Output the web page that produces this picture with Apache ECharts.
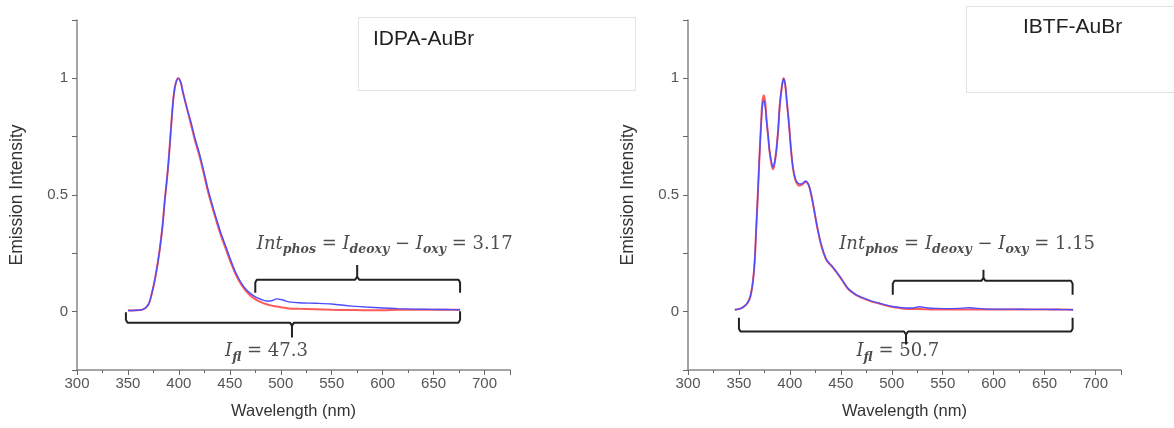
<!DOCTYPE html>
<html>
<head>
<meta charset="utf-8">
<script src="https://cdn.jsdelivr.net/npm/echarts@6/dist/echarts.min.js"></script>
<style>
  html, body { margin: 0; padding: 0; background: #fff; }
  #chart { width: 1174px; height: 428px; }
</style>
</head>
<body>
<div id="chart"></div>
<script>
// wavelength (nm) / normalised emission
var idpaX = [350, 358, 365, 370, 373, 377, 381, 384, 386, 389, 391, 393, 395, 397, 399.5, 402, 404, 408, 412, 416, 420, 424, 428, 432, 436, 441, 446, 451, 456, 461, 466, 471, 476, 481, 486, 491, 496, 502, 508, 518, 534, 550, 567, 583, 600, 615, 630, 648, 662, 676];
var idpaDeoxy = [0.005, 0.006, 0.01, 0.03, 0.07, 0.15, 0.26, 0.37, 0.47, 0.6, 0.71, 0.83, 0.93, 0.98, 1.0, 0.98, 0.94, 0.87, 0.81, 0.74, 0.68, 0.61, 0.535, 0.47, 0.41, 0.34, 0.28, 0.22, 0.166, 0.125, 0.095, 0.075, 0.061, 0.052, 0.046, 0.047, 0.055, 0.05, 0.042, 0.038, 0.036, 0.033, 0.025, 0.02, 0.016, 0.013, 0.011, 0.01, 0.009, 0.008];
var idpaOxy = [0.005, 0.006, 0.01, 0.03, 0.07, 0.15, 0.26, 0.37, 0.47, 0.6, 0.71, 0.83, 0.93, 0.98, 1.0, 0.98, 0.94, 0.87, 0.8, 0.73, 0.67, 0.6, 0.525, 0.46, 0.4, 0.33, 0.27, 0.21, 0.158, 0.118, 0.088, 0.066, 0.051, 0.04, 0.032, 0.026, 0.022, 0.018, 0.014, 0.012, 0.01, 0.008, 0.007, 0.006, 0.006, 0.008, 0.008, 0.008, 0.008, 0.008];

var ibtfX = [346, 352, 357, 360, 362, 364, 365.5, 367, 368.5, 370.3, 372, 373, 374.5, 376, 377, 378.5, 380, 382, 383.5, 385, 386.7, 388.5, 390, 392, 393.8, 395.5, 397, 399, 401, 403, 405, 407, 409, 411, 413, 415.4, 417.5, 419.5, 422, 424.5, 427, 430, 433, 436, 439, 442, 445.5, 449, 453, 457, 461, 465, 470, 475, 481, 488, 494, 501, 510, 520, 527, 535, 545, 555, 565, 576, 590, 605, 620, 635, 650, 665, 678];
var ibtfDeoxy = [0.008, 0.014, 0.03, 0.05, 0.08, 0.14, 0.22, 0.36, 0.5, 0.68, 0.82, 0.88, 0.905, 0.87, 0.82, 0.76, 0.69, 0.64, 0.62, 0.64, 0.69, 0.78, 0.88, 0.96, 1.0, 0.97, 0.9, 0.81, 0.7, 0.62, 0.575, 0.555, 0.548, 0.547, 0.552, 0.56, 0.552, 0.53, 0.48, 0.42, 0.36, 0.3, 0.255, 0.222, 0.206, 0.192, 0.172, 0.151, 0.125, 0.1, 0.085, 0.073, 0.062, 0.054, 0.044, 0.036, 0.029, 0.022, 0.017, 0.016, 0.021, 0.016, 0.014, 0.013, 0.014, 0.017, 0.012, 0.011, 0.011, 0.01, 0.01, 0.009, 0.0085];
var ibtfOxy = [0.008, 0.014, 0.03, 0.05, 0.08, 0.14, 0.22, 0.36, 0.5, 0.68, 0.83, 0.9, 0.927, 0.89, 0.83, 0.76, 0.69, 0.63, 0.61, 0.635, 0.69, 0.78, 0.88, 0.96, 1.0, 0.97, 0.9, 0.81, 0.7, 0.615, 0.57, 0.548, 0.54, 0.542, 0.548, 0.556, 0.55, 0.528, 0.478, 0.418, 0.358, 0.298, 0.253, 0.22, 0.204, 0.19, 0.17, 0.149, 0.123, 0.098, 0.083, 0.071, 0.06, 0.052, 0.042, 0.034, 0.027, 0.02, 0.014, 0.011, 0.011, 0.01, 0.009, 0.009, 0.009, 0.009, 0.009, 0.009, 0.009, 0.009, 0.009, 0.009, 0.0085];

// bracket annotations, in data units [nm, intensity]
var idpaFlBracket = [[348, -0.002], [348, -0.035], [349.5, -0.047], [509, -0.047], [511, -0.06], [511, -0.111], [511, -0.06], [513, -0.047], [674.5, -0.047], [676, -0.035], [676, 0.002]];
var idpaPhosBracket = [[475, 0.081], [475, 0.125], [476.5, 0.137], [573, 0.137], [575, 0.15], [575, 0.2], [575, 0.15], [577, 0.137], [674.5, 0.137], [676, 0.125], [676, 0.081]];
var ibtfFlBracket = [[350, -0.026], [350, -0.073], [351.5, -0.085], [512, -0.085], [514, -0.098], [514, -0.141], [514, -0.098], [516, -0.085], [676, -0.085], [677.5, -0.073], [677.5, -0.026]];
var ibtfPhosBracket = [[501, 0.073], [501, 0.12], [502.5, 0.132], [588, 0.132], [590, 0.145], [590, 0.18], [590, 0.145], [592, 0.132], [676, 0.132], [677.5, 0.12], [677.5, 0.073]];

var xTicks = [300, 350, 400, 450, 500, 550, 600, 650, 700];
var yTicks = [0, 0.5, 1];

var chart = echarts.init(document.getElementById('chart'));

var richText = {
  m: { fontFamily: 'DejaVu Serif', fontStyle: 'italic', fontSize: 18, color: '#222', lineHeight: 22 },
  n: { fontFamily: 'DejaVu Serif', fontSize: 18, color: '#222', lineHeight: 22 },
  s: { fontFamily: 'DejaVu Serif', fontStyle: 'italic', fontWeight: 'bold', fontSize: 12.5, color: '#222', lineHeight: 13, padding: [11, 0, 0, 0] }
};

function pair(xs, ys) {
  return xs.map(function (x, i) { return [x, ys[i]]; });
}

function xAxis(idx) {
  return {
    type: 'value', gridIndex: idx, min: 300, max: 725, interval: 50,
    name: 'Wavelength (nm)', nameLocation: 'middle', nameGap: 33,
    nameTextStyle: { fontFamily: 'Liberation Sans', fontSize: 16.5, color: '#333' },
    axisLine: { onZero: false, lineStyle: { color: '#888', width: 1.5 } },
    axisTick: { length: 5, lineStyle: { color: '#666' } },
    minorTick: { show: true, splitNumber: 2, length: 3, lineStyle: { color: '#666' } },
    axisLabel: {
      fontFamily: 'Liberation Sans', fontSize: 15, color: '#555', margin: 6,
      formatter: function (v) { return xTicks.indexOf(v) >= 0 ? String(v) : ''; }
    },
    splitLine: { show: false }
  };
}

function yAxis(idx) {
  return {
    type: 'value', gridIndex: idx, min: -0.25, max: 1.25, interval: 0.25,
    name: 'Emission Intensity', nameLocation: 'middle', nameGap: 51,
    nameTextStyle: { fontFamily: 'Liberation Sans', fontSize: 17.5, color: '#333' },
    axisLine: { show: true, lineStyle: { color: '#888', width: 1.5 } },
    axisTick: { length: 5, lineStyle: { color: '#666' } },
    axisLabel: {
      fontFamily: 'Liberation Sans', fontSize: 15, color: '#555', margin: 9,
      formatter: function (v) { return yTicks.indexOf(v) >= 0 ? String(v) : ''; }
    },
    splitLine: { show: false }
  };
}

function curve(idx, data, color, width, z) {
  return {
    type: 'line', xAxisIndex: idx, yAxisIndex: idx, data: data,
    symbol: 'none', smooth: 0.3, z: z,
    lineStyle: { color: color, width: width }
  };
}

function bracket(idx, data) {
  return {
    type: 'line', xAxisIndex: idx, yAxisIndex: idx, data: data,
    symbol: 'none', z: 5, silent: true,
    lineStyle: { color: '#222', width: 2 }
  };
}

function note(idx, pos, text) {
  return {
    type: 'scatter', xAxisIndex: idx, yAxisIndex: idx, data: [pos],
    symbolSize: 0, silent: true, z: 6,
    label: { show: true, position: 'inside', formatter: text, rich: richText }
  };
}

option = {
  animation: false,
  backgroundColor: '#fff',
  grid: [
    { left: 77, top: 20, width: 433, height: 350 },
    { left: 688, top: 20, width: 433, height: 350 }
  ],
  xAxis: [xAxis(0), xAxis(1)],
  yAxis: [yAxis(0), yAxis(1)],
  graphic: [
    { type: 'rect', left: 358, top: 17, shape: { width: 277, height: 73 },
      style: { fill: '#fff', stroke: '#e2e2e2', lineWidth: 1 } },
    { type: 'text', left: 373, top: 29,
      style: { text: 'IDPA-AuBr', fontFamily: 'Liberation Sans', fontSize: 21, fill: '#222' } },
    { type: 'rect', left: 966, top: 6, shape: { width: 220, height: 86 },
      style: { fill: '#fff', stroke: '#e2e2e2', lineWidth: 1 } },
    { type: 'text', left: 1023, top: 17,
      style: { text: 'IBTF-AuBr', fontFamily: 'Liberation Sans', fontSize: 21, fill: '#222' } }
  ],
  series: [
    curve(0, pair(idpaX, idpaOxy), '#ff5a5a', 2, 2),
    curve(0, pair(idpaX, idpaDeoxy), '#4d4dff', 1.4, 3),
    curve(1, pair(ibtfX, ibtfOxy), '#ff5a5a', 2, 2),
    curve(1, pair(ibtfX, ibtfDeoxy), '#4d4dff', 1.4, 3),
    bracket(0, idpaFlBracket),
    bracket(0, idpaPhosBracket),
    bracket(1, ibtfFlBracket),
    bracket(1, ibtfPhosBracket),
    note(0, [602, 0.29], '{m|Int}{s|phos}{n| = }{m|I}{s|deoxy}{n| − }{m|I}{s|oxy}{n| = 3.17}'),
    note(0, [486, -0.172], '{m|I}{s|fl}{n| = 47.3}'),
    note(1, [574, 0.29], '{m|Int}{s|phos}{n| = }{m|I}{s|deoxy}{n| − }{m|I}{s|oxy}{n| = 1.15}'),
    note(1, [506, -0.172], '{m|I}{s|fl}{n| = 50.7}')
  ]
};

chart.setOption(option);
</script>
</body>
</html>
